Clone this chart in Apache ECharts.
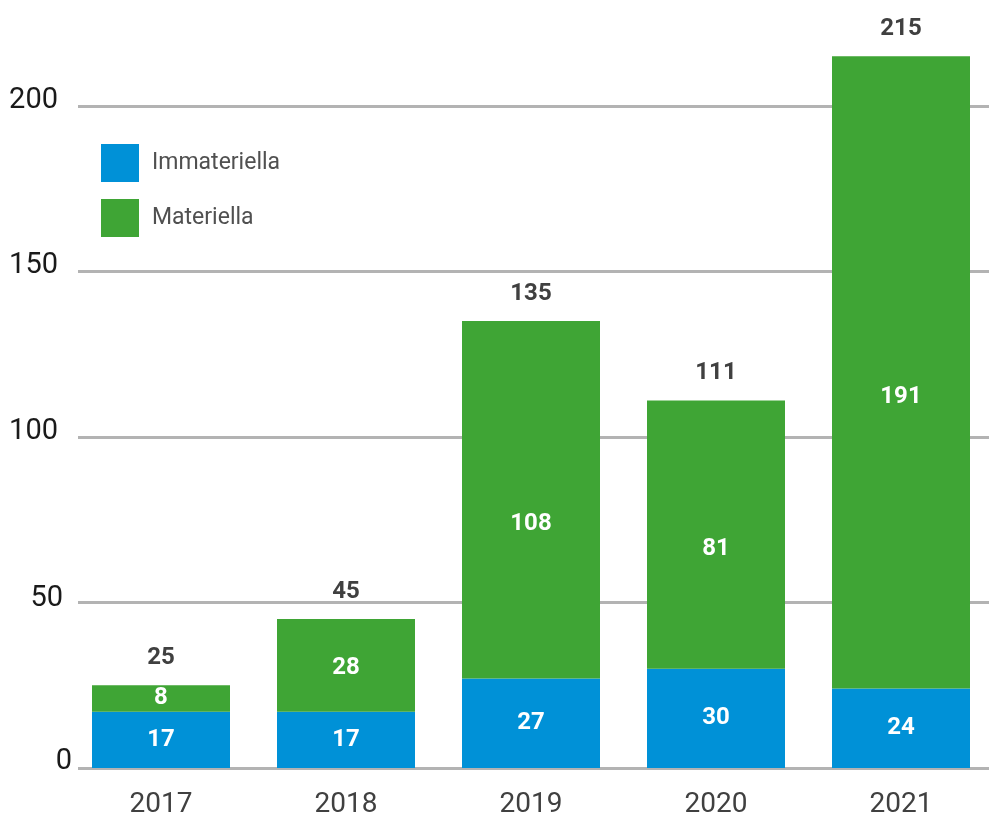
<!DOCTYPE html>
<html>
<head>
<meta charset="utf-8">
<script src="https://cdn.jsdelivr.net/npm/echarts@6/dist/echarts.min.js"></script>
<style>
  html, body { margin: 0; padding: 0; background: #fff; }
  #chart { width: 989px; height: 821px; }
</style>
</head>
<body>
<div id="chart"></div>
<script>
// Investments per year, split into intangible and tangible
const years = ['2017', '2018', '2019', '2020', '2021'];
const immateriella = [17, 17, 27, 30, 24];
const materiella = [8, 28, 108, 81, 191];
const yTicks = [0, 50, 100, 150, 200];

const totals = years.map((_, i) => immateriella[i] + materiella[i]);

// vertical nudge (px) of the value labels inside the green segments
const greenLabelDy = [0, 3, 24, 14, 25];

const BLUE = '#0091d7';
const GREEN = '#3fa535';
const FONT = 'Roboto, "DejaVu Sans", sans-serif';

const chart = echarts.init(document.getElementById('chart'), null, { renderer: 'canvas' });

const yMax = 232;

const valueLabel = {
  show: true,
  position: 'inside',
  fontFamily: FONT,
  fontSize: 24,
  fontWeight: 'bold',
  color: '#fff'
};

chart.setOption({
  animation: false,
  backgroundColor: '#fff',
  legend: {
    orient: 'vertical',
    left: 101,
    top: 144,
    padding: 0,
    itemWidth: 38,
    itemHeight: 38,
    itemGap: 17,
    icon: 'rect',
    data: ['Immateriella', 'Materiella'],
    textStyle: {
      fontFamily: FONT,
      fontSize: 23,
      color: '#505050',
      padding: [0, 0, 0, 8]
    }
  },
  grid: [
    // grid carrying the horizontal rules and the value labels
    { left: 78, right: 0, top: 0, bottom: 53 },
    // grid carrying the bars: first and last year sit on its edges
    { left: 161, right: 88, top: 0, bottom: 53 }
  ],
  xAxis: [
    { type: 'category', gridIndex: 0, data: years, show: false },
    {
      type: 'category',
      gridIndex: 1,
      data: years,
      boundaryGap: false,
      axisLine: { show: false },
      axisTick: { show: false },
      axisLabel: {
        margin: 23,
        fontFamily: FONT,
        fontSize: 28,
        color: '#404040'
      }
    }
  ],
  yAxis: [
    {
      type: 'value',
      gridIndex: 0,
      min: 0,
      max: yMax,
      interval: 50,
      axisLine: { show: false },
      axisTick: { show: false },
      splitLine: {
        show: true,
        showMaxLine: false,
        lineStyle: { color: '#b3b3b3', width: 3 }
      },
      axisLabel: {
        showMaxLabel: false,
        margin: 6,
        fontFamily: FONT,
        fontSize: 29,
        color: '#1a1a1a',
        formatter: v => {
          if (yTicks.indexOf(v) < 0) return '';
          if (v === 0) return '{z|' + v + '}';
          if (v === 50) return '{f|' + v + '}';
          return '{h|' + v + '}';
        },
        rich: {
          z: { fontFamily: FONT, fontSize: 29, color: '#1a1a1a', padding: [0, 0, 12, 0] },
          f: { fontFamily: FONT, fontSize: 29, color: '#1a1a1a', padding: [0, 9, 7, 0] },
          h: { fontFamily: FONT, fontSize: 29, color: '#1a1a1a', padding: [0, 14, 11, 0] }
        }
      }
    },
    {
      type: 'value',
      gridIndex: 1,
      min: 0,
      max: yMax,
      interval: 50,
      show: false,
      splitLine: { show: false }
    }
  ],
  series: [
    {
      name: 'Immateriella',
      type: 'bar',
      xAxisIndex: 1,
      yAxisIndex: 1,
      stack: 'inv',
      barWidth: 138,
      data: immateriella,
      itemStyle: { color: BLUE },
      label: valueLabel
    },
    {
      name: 'Materiella',
      type: 'bar',
      xAxisIndex: 1,
      yAxisIndex: 1,
      stack: 'inv',
      barWidth: 138,
      data: materiella.map((v, i) => ({
        value: v,
        label: { offset: [0, greenLabelDy[i]] }
      })),
      itemStyle: { color: GREEN },
      label: valueLabel
    },
    {
      // sum of both parts, labelled above each stack
      name: 'Totalt',
      type: 'line',
      xAxisIndex: 1,
      yAxisIndex: 1,
      data: totals,
      symbol: 'circle',
      symbolSize: 1,
      itemStyle: { color: 'rgba(0,0,0,0)' },
      lineStyle: { width: 0, opacity: 0 },
      label: {
        show: true,
        position: 'top',
        distance: 15,
        fontFamily: FONT,
        fontSize: 24,
        fontWeight: 'bold',
        color: '#404040'
      },
      z: 5
    }
  ]
});
</script>
</body>
</html>
